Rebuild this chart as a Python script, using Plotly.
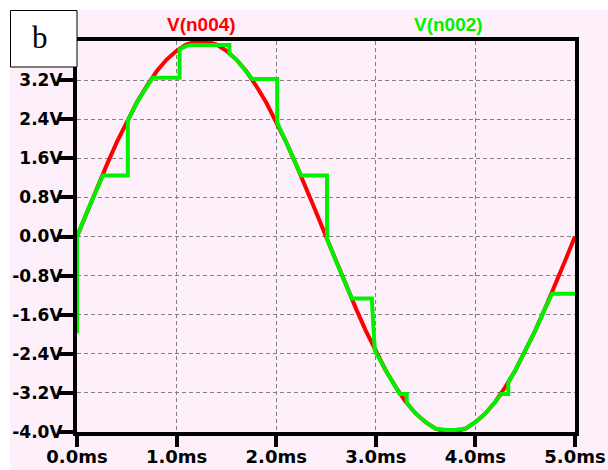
import plotly.graph_objects as go

# ---- data ----
red_t = [0.0, 0.1, 0.2, 0.3, 0.4, 0.5, 0.6, 0.7, 0.8, 0.9, 1.0, 1.1, 1.2, 1.3, 1.4, 1.5, 1.6, 1.7, 1.8, 1.9,
         2.0, 2.1, 2.2, 2.3, 2.4, 2.5, 2.6, 2.7, 2.8, 2.9, 3.0, 3.1, 3.2, 3.3, 3.4, 3.5, 3.6, 3.7, 3.8, 3.9,
         4.0, 4.1, 4.2, 4.3, 4.4, 4.5, 4.6, 4.7, 4.8, 4.9, 5.0]
red_v = [0.00, 0.50, 1.00, 1.47, 1.93, 2.35, 2.74, 3.08, 3.38, 3.62, 3.80, 3.93, 3.99, 3.99, 3.93, 3.80, 3.62, 3.38, 3.08, 2.74,
         2.35, 1.93, 1.47, 1.00, 0.50, 0.00, -0.50, -1.00, -1.47, -1.93, -2.35, -2.74, -3.08, -3.38, -3.62, -3.80, -3.93, -3.99, -3.99, -3.93,
         -3.80, -3.62, -3.38, -3.08, -2.74, -2.35, -1.93, -1.47, -1.00, -0.50, 0.00]

green_t = [0.0, 0.0, 0.1, 0.2, 0.26, 0.51, 0.51, 0.6, 0.7, 0.76, 1.03, 1.03, 1.1, 1.15, 1.53, 1.53, 1.6, 1.7, 1.76,
           2.01, 2.01, 2.1, 2.2, 2.25, 2.51, 2.51, 2.6, 2.7, 2.76, 2.96, 2.99, 3.1, 3.2, 3.24, 3.31, 3.31, 3.4, 3.5,
           3.6, 3.7, 3.8, 3.9, 4.0, 4.1, 4.2, 4.26, 4.33, 4.33, 4.4, 4.5, 4.6, 4.7, 4.77, 5.0]
green_v = [-1.98, 0.00, 0.50, 1.00, 1.25, 1.25, 2.37, 2.74, 3.08, 3.25, 3.25, 3.83, 3.90, 3.92, 3.92, 3.74, 3.62, 3.38, 3.22,
           3.22, 2.33, 1.93, 1.47, 1.25, 1.25, -0.05, -0.50, -1.00, -1.27, -1.27, -2.33, -2.74, -3.08, -3.22, -3.22, -3.40, -3.62, -3.80,
           -3.93, -3.96, -3.96, -3.93, -3.80, -3.62, -3.38, -3.22, -3.22, -2.98, -2.74, -2.35, -1.93, -1.47, -1.17, -1.17]

y_ticks = [-4.0, -3.2, -2.4, -1.6, -0.8, 0.0, 0.8, 1.6, 2.4, 3.2]
y_labels = ["-4.0V", "-3.2V", "-2.4V", "-1.6V", "-0.8V", "0.0V", "0.8V", "1.6V", "2.4V", "3.2V"]
x_ticks = [0, 1, 2, 3, 4, 5]
x_labels = ["0.0ms", "1.0ms", "2.0ms", "3.0ms", "4.0ms", "5.0ms"]

red_name = "V(n004)"
green_name = "V(n002)"
panel_label = "b"

# ---- layout geometry (pixels) ----
W, H = 608, 470
L, R, T, B = 77, 575, 41, 432
PINK = "#fdf0fb"
RED = "#ff0000"
GREEN = "#00f000"


def px_x(p):
    return (p - L) / (R - L)


def px_y(p):
    return (B - p) / (B - T)


fig = go.Figure()
fig.add_trace(go.Scatter(x=red_t, y=red_v, mode="lines", line=dict(color=RED, width=4), showlegend=False))
fig.add_trace(go.Scatter(x=green_t, y=green_v, mode="lines", line=dict(color=GREEN, width=4), showlegend=False))

fig.update_layout(
    width=W, height=H,
    margin=dict(l=L, r=W - R, t=T, b=H - B, pad=0, autoexpand=False),
    paper_bgcolor=PINK, plot_bgcolor=PINK,
    showlegend=False,
    xaxis=dict(range=[0, 5], tickvals=x_ticks, ticktext=x_labels, ticks="outside", ticklen=11, tickwidth=4,
               tickcolor="black", showline=True, linecolor="black", linewidth=4, mirror=True, automargin=False,
               showgrid=True, gridcolor="#808080", gridwidth=1, griddash="4px,3px", zeroline=False,
               ticklabelstandoff=-6,
               tickfont=dict(family="DejaVu Sans", size=18, color="black", weight="bold"), layer="below traces"),
    yaxis=dict(range=[-4, 4], tickvals=y_ticks, ticktext=y_labels, ticks="outside", ticklen=15, tickwidth=4,
               tickcolor="black", showline=True, linecolor="black", linewidth=4, mirror=True, automargin=False,
               showgrid=True, gridcolor="#808080", gridwidth=1, griddash="4px,3px", zeroline=False,
               ticklabelstandoff=-8,
               tickfont=dict(family="DejaVu Sans", size=17, color="black", weight="bold"), layer="below traces"),
)

# white margins on left and top
fig.add_shape(type="rect", xref="paper", yref="paper", x0=px_x(-5), x1=px_x(10), y0=px_y(480), y1=px_y(-5),
              fillcolor="white", line=dict(width=0), layer="below")
fig.add_shape(type="rect", xref="paper", yref="paper", x0=px_x(-5), x1=px_x(615), y0=px_y(10), y1=px_y(-5),
              fillcolor="white", line=dict(width=0), layer="below")
# label box
fig.add_shape(type="rect", xref="paper", yref="paper", x0=px_x(10.5), x1=px_x(77), y0=px_y(67), y1=px_y(10.5),
              fillcolor="white", line=dict(color="black", width=1), layer="above")
fig.add_annotation(x=px_x(39.5), y=px_y(38), xref="paper", yref="paper", text=panel_label, showarrow=False,
                   xanchor="center", yanchor="middle", font=dict(family="Liberation Serif", size=31, color="black"))
fig.add_annotation(x=px_x(201), y=px_y(25), xref="paper", yref="paper", text=red_name, showarrow=False,
                   xanchor="center", yanchor="middle",
                   font=dict(family="Liberation Sans", size=19, color=RED, weight="bold"))
fig.add_annotation(x=px_x(448), y=px_y(25), xref="paper", yref="paper", text=green_name, showarrow=False,
                   xanchor="center", yanchor="middle",
                   font=dict(family="Liberation Sans", size=19, color=GREEN, weight="bold"))

fig.write_html("out.html")
